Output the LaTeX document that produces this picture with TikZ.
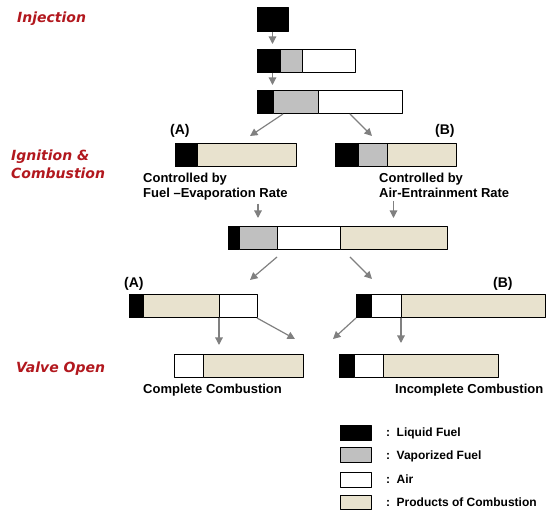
\documentclass[tikz,border=0pt]{standalone}
\usepackage{fontspec}
\setmainfont{Liberation Sans}
\newfontfamily\titlefont{DejaVu Sans}
\usetikzlibrary{positioning,arrows.meta}
\definecolor{titlered}{RGB}{178,24,30}
\definecolor{vapgray}{RGB}{192,192,192}
\definecolor{prodbeige}{RGB}{232,226,206}
\definecolor{arrowgray}{RGB}{128,128,128}
\begin{document}
\begin{tikzpicture}[x=1pt,y=-1pt,line join=round,
	seg/.style={draw,line width=1pt,minimum height=23pt,inner sep=0pt,outer sep=0pt},
	liq/.style={seg,fill=black},
	vap/.style={seg,fill=vapgray},
	air/.style={seg,fill=white},
	prod/.style={seg,fill=prodbeige},
	arr/.style={draw=arrowgray,line width=1.2pt,-{Triangle[length=7.5pt,width=7.5pt]}},
	title/.style={text=titlered,inner sep=0pt,font=\titlefont\bfseries\itshape\fontsize{14}{18}\selectfont,align=left},
	lbl/.style={inner sep=0pt,font=\bfseries\fontsize{13}{15}\selectfont,align=left},
	tag/.style={inner sep=0pt,anchor=base west,font=\bfseries\fontsize{14}{16}\selectfont},
	keytxt/.style={inner sep=0pt,anchor=base west,font=\bfseries\fontsize{12}{14}\selectfont}]
	\useasboundingbox (0,0) rectangle (558,513);
	
	\node[title,anchor=base west] (inj) at (17,23) {Injection};
	\node[title,anchor=north west] (ign) at (11,150) {Ignition \&\\Combustion};
	\node[title,anchor=base west] (valve) at (16,373) {Valve Open};
	
	\node[liq,minimum width=31pt,minimum height=24pt,anchor=north west] (i1) at (257,8) {};
	
	\node[liq,minimum width=23pt,anchor=north west] (i2a) at (257,50) {};
	\node[vap,minimum width=22pt,right=0pt of i2a] (i2b) {};
	\node[air,minimum width=53pt,right=0pt of i2b] (i2c) {};
	
	\node[liq,minimum width=16pt,anchor=north west] (i3a) at (257,91) {};
	\node[vap,minimum width=45pt,right=0pt of i3a] (i3b) {};
	\node[air,minimum width=84pt,right=0pt of i3b] (i3c) {};
	
	\node[liq,minimum width=22pt,anchor=north west] (a1a) at (175,144) {};
	\node[prod,minimum width=99pt,right=0pt of a1a] (a1b) {};
	
	\node[liq,minimum width=23pt,anchor=north west] (b1a) at (335,144) {};
	\node[vap,minimum width=29pt,right=0pt of b1a] (b1b) {};
	\node[prod,minimum width=69pt,right=0pt of b1b] (b1c) {};
	
	\node[liq,minimum width=11pt,anchor=north west] (m1) at (228,227) {};
	\node[vap,minimum width=38pt,right=0pt of m1] (m2) {};
	\node[air,minimum width=63pt,right=0pt of m2] (m3) {};
	\node[prod,minimum width=107pt,right=0pt of m3] (m4) {};
	
	\node[liq,minimum width=14pt,anchor=north west] (a2a) at (129,295) {};
	\node[prod,minimum width=76pt,right=0pt of a2a] (a2b) {};
	\node[air,minimum width=38pt,right=0pt of a2b] (a2c) {};
	
	\node[liq,minimum width=15pt,anchor=north west] (b2a) at (356,295) {};
	\node[air,minimum width=30pt,right=0pt of b2a] (b2b) {};
	\node[prod,minimum width=144pt,right=0pt of b2b] (b2c) {};
	
	\node[air,minimum width=29pt,anchor=north west] (c1) at (174,355) {};
	\node[prod,minimum width=100pt,right=0pt of c1] (c2) {};
	
	\node[liq,minimum width=15pt,anchor=north west] (n1) at (339,355) {};
	\node[air,minimum width=29pt,right=0pt of n1] (n2) {};
	\node[prod,minimum width=115pt,right=0pt of n2] (n3) {};
	
	\node[tag] (labA1) at (170,135) {(A)};
	\node[tag] (labB1) at (435,135) {(B)};
	\node[tag] (labA2) at (124,288) {(A)};
	\node[tag] (labB2) at (493,288) {(B)};
	
	\node[lbl,anchor=north west] (ctlA) at (143,173) {Controlled by\\Fuel –Evaporation Rate};
	\node[lbl,anchor=north west] (ctlB) at (379,173) {Controlled by\\Air-Entrainment Rate};
	\node[lbl,anchor=base west] (done) at (143,394) {Complete Combustion};
	\node[lbl,anchor=base west] (undone) at (395,394) {Incomplete Combustion};
	
	\coordinate (toA1) at (250,136);
	\coordinate (toB1) at (372,136);
	\coordinate (toA2) at (250,280);
	\coordinate (toB2) at (372,279);
	\coordinate (toC) at (295,339);
	\coordinate (toN) at (333,339);
	
	\draw[arr,shorten >=6pt] (i1.south) -- (i1.south |- i2a.north);
	\draw[arr,shorten >=6pt] (i1.south |- i2a.south) -- (i1.south |- i3a.north);
	\draw[arr] ([xshift=10pt]i3b.south west) -- (toA1);
	\draw[arr] ([xshift=32pt]i3c.south west) -- (toB1);
	\draw[arr,shorten <=3pt,shorten >=9pt] (m2.north |- ctlA.south) -- (m2.north);
	\draw[arr,shorten <=3pt,shorten >=9pt] (m4.north |- ctlB.south) -- (m4.north);
	\draw[arr] ([yshift=-7pt]m2.south east) -- (toA2);
	\draw[arr] ([xshift=10pt,yshift=-7pt]m4.south west) -- (toB2);
	\draw[arr,shorten >=10pt] (a2b.south east) -- (a2b.south east |- c1.north);
	\draw[arr] (a2c.south east) -- (toC);
	\draw[arr] (b2a.south west) -- (toN);
	\draw[arr,shorten >=12pt] (b2b.south east) -- (b2b.south east |- n1.north);
	
	\node[liq,minimum width=31pt,minimum height=15pt,anchor=north west] (keyliq) at (340,426) {};
	\node[vap,minimum width=31pt,minimum height=15pt,anchor=north west] (keyvap) at (340,448) {};
	\node[air,minimum width=31pt,minimum height=15pt,anchor=north west] (keyair) at (340,473) {};
	\node[prod,minimum width=31pt,minimum height=14pt,anchor=north west] (keyprod) at (340,496) {};
	\node[keytxt] (txtliq) at (386,437) {:\hspace{6.5pt}Liquid Fuel};
	\node[keytxt] (txtvap) at (386,460) {:\hspace{6.5pt}Vaporized Fuel};
	\node[keytxt] (txtair) at (386,484) {:\hspace{6.5pt}Air};
	\node[keytxt] (txtprod) at (386,507) {:\hspace{6.5pt}Products of Combustion};
\end{tikzpicture}
\end{document}
